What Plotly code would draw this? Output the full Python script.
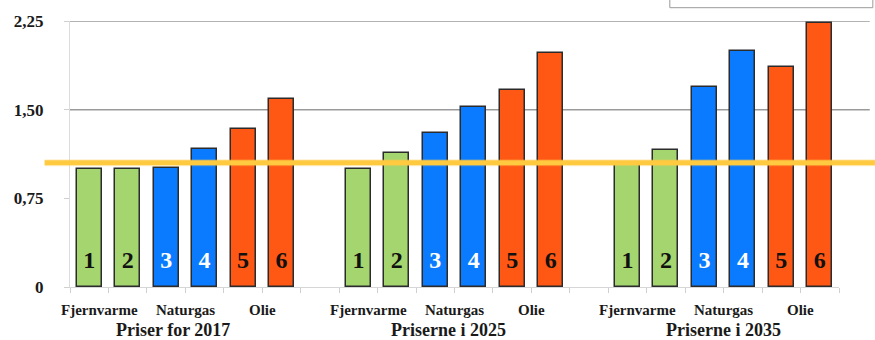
import plotly.graph_objects as go

# Relative heating prices per scenario (index, 1 = baseline)
groups = ["Priser for 2017", "Priserne i 2025", "Priserne i 2035"]
fuels = ["Fjernvarme", "Naturgas", "Olie"]
bar_numbers = ["1", "2", "3", "4", "5", "6"]
prices_2017 = [1.00, 1.00, 1.01, 1.17, 1.34, 1.59]
prices_2025 = [1.00, 1.13, 1.30, 1.52, 1.67, 1.98]
prices_2035 = [1.05, 1.16, 1.69, 2.00, 1.86, 2.23]
reference_level = 1.05
y_ticks = [0, 0.75, 1.50, 2.25]
y_tick_labels = ["0", "0,75", "1,50", "2,25"]
grid_levels = [1.50, 2.25]

bar_colors = ["#A4D56E", "#A4D56E", "#0A7BFF", "#0A7BFF", "#FF5714", "#FF5714"]
number_colors = ["#111111", "#111111", "#FFFFFF", "#FFFFFF", "#111111", "#111111"]
serif = "Liberation Serif"

all_series = [prices_2017, prices_2025, prices_2035]
slots_per_group = len(bar_numbers) + 1  # one empty slot between groups

fig = go.Figure()
xs, ys, cols, nums, ncols = [], [], [], [], []
for g, series in enumerate(all_series):
    for i, v in enumerate(series):
        xs.append(g * slots_per_group + i)
        ys.append(v)
        cols.append(bar_colors[i])
        nums.append(bar_numbers[i])
        ncols.append(number_colors[i])

fig.add_trace(go.Bar(
    x=xs, y=ys, width=0.65,
    marker=dict(color=cols, line=dict(color="#2b2b2b", width=1.5)),
    hoverinfo="skip", showlegend=False,
))

# Bar numbers near the base of each bar
fig.add_trace(go.Scatter(
    x=xs, y=[0.21] * len(xs), mode="text", text=nums,
    textfont=dict(family=serif, size=24, color=ncols, weight="bold"),
    textposition="middle center", hoverinfo="skip", showlegend=False,
))

n_slots = slots_per_group * len(groups) - 1
annotations = []
group_shift = [-12, -6, 0]
for g, name in enumerate(groups):
    base = g * slots_per_group
    for k, fuel in enumerate(fuels):
        annotations.append(dict(
            x=base + 2 * k + 0.5, y=-0.086, xref="x", yref="paper",
            text=f"<b>{fuel}</b>", showarrow=False, yanchor="middle",
            xshift=-9 if k == 0 else 0,
            font=dict(family=serif, size=15, color="#1a1a1a"),
        ))
    annotations.append(dict(
        x=base + 2.5, y=-0.162, xref="x", yref="paper",
        text=f"<b>{name}</b>", showarrow=False, yanchor="middle",
        xshift=group_shift[g],
        font=dict(family=serif, size=18, color="#1a1a1a"),
    ))

shapes = []
for lvl in grid_levels:
    shapes.append(dict(type="line", xref="paper", yref="y", x0=0, x1=1.04,
                       y0=lvl, y1=lvl, line=dict(color="#9a9a9a", width=1.5),
                       layer="below"))
# Reference level band (soft glow + core line)
shapes.append(dict(type="line", xref="paper", yref="y", x0=-0.033, x1=1.06,
                   y0=reference_level, y1=reference_level,
                   line=dict(color="rgba(255,205,80,0.3)", width=7), layer="above"))
shapes.append(dict(type="line", xref="paper", yref="y", x0=-0.033, x1=1.06,
                   y0=reference_level, y1=reference_level,
                   line=dict(color="#FFC940", width=5), layer="above"))
# Frame of the text box in the upper right corner
shapes.append(dict(type="rect", xref="paper", yref="paper", x0=0.78, x1=1.044,
                   y0=1.05, y1=1.3, line=dict(color="#9a9a9a", width=1),
                   fillcolor="rgba(0,0,0,0)"))

fig.update_layout(
    width=875, height=340,
    margin=dict(l=70, r=36, t=19, b=53),
    paper_bgcolor="white", plot_bgcolor="white",
    bargap=0,
    xaxis=dict(
        range=[-0.5, n_slots - 0.5], showgrid=False, zeroline=False,
        showline=True, linecolor="#d6d6d6", linewidth=1,
        tickmode="array", tickvals=[i - 0.5 for i in range(n_slots + 1)],
        ticktext=[""] * (n_slots + 1), ticks="outside", ticklen=5,
        tickcolor="#d0d0d0",
    ),
    yaxis=dict(
        range=[0, 2.25], showgrid=False, zeroline=False,
        showline=True, linecolor="#dcdcdc", linewidth=1,
        tickmode="array", tickvals=y_ticks, ticktext=y_tick_labels,
        ticks="outside", ticklen=5, tickcolor="#d0d0d0",
        tickfont=dict(family=serif, size=17, color="#1a1a1a", weight="bold"),
        ticklabelstandoff=17,
    ),
    annotations=annotations, shapes=shapes,
)

fig.write_html("out.html")
